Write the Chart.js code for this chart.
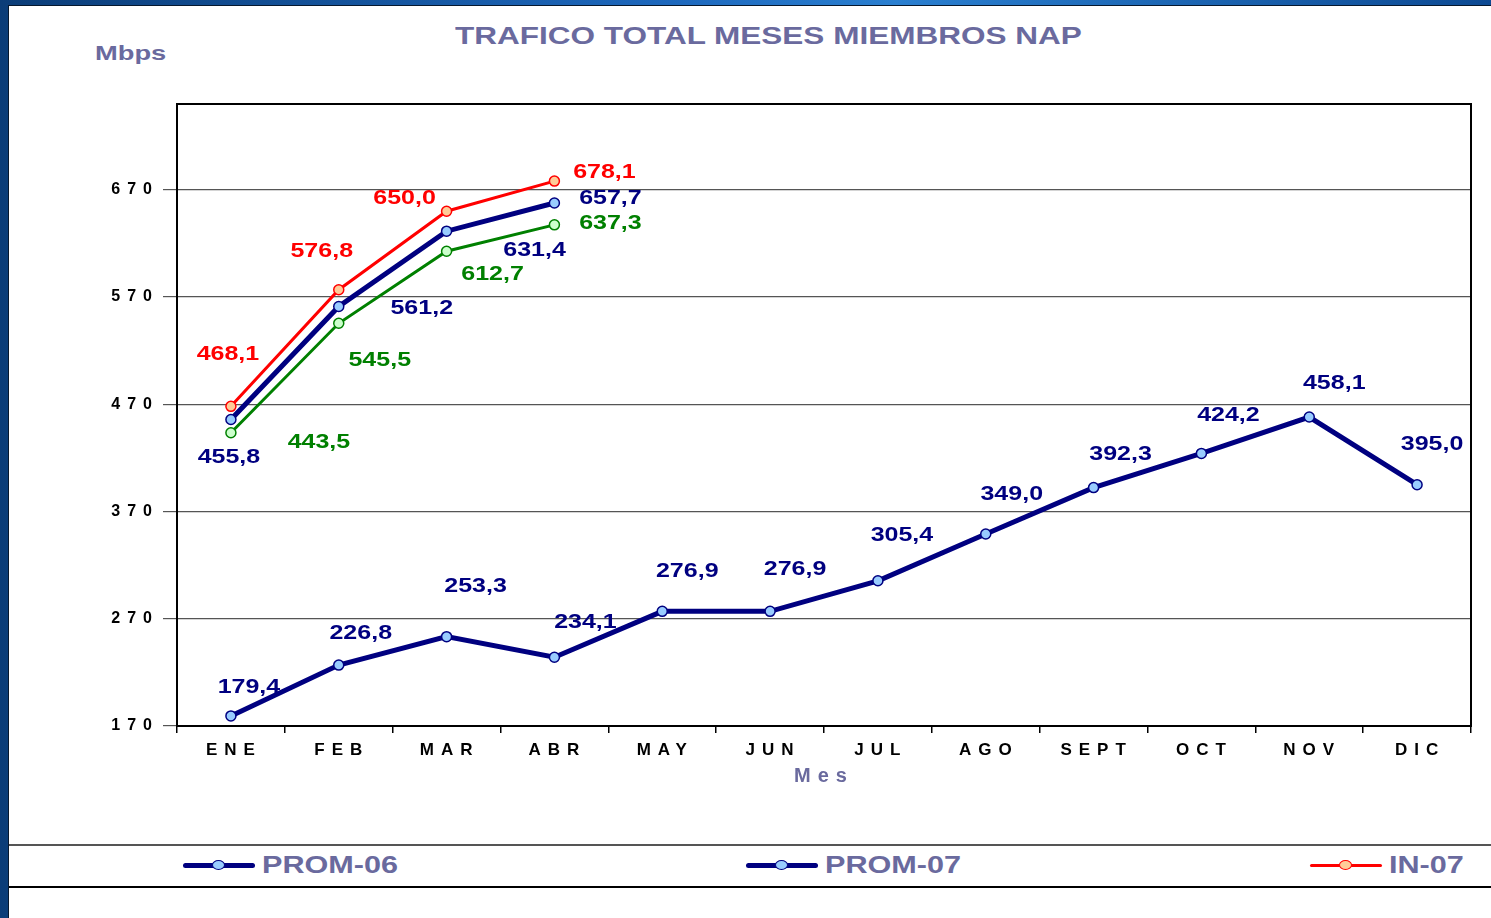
<!DOCTYPE html>
<html>
<head>
<meta charset="utf-8">
<title>TRAFICO TOTAL MESES MIEMBROS NAP</title>
<script src="https://cdn.jsdelivr.net/npm/chart.js@4.4.1/dist/chart.umd.min.js"></script>
<style>
  body {
    margin: 0;
    width: 1491px;
    height: 918px;
    overflow: hidden;
    position: relative;
    background: linear-gradient(90deg, #0b3d78 0%, #1d68bd 45%, #2a7fd0 60%, #0d4a93 100%);
    font-family: Arial, "Liberation Sans", sans-serif;
  }
  .panel {
    position: absolute;
    left: 8px; top: 5px; right: 0; bottom: 0;
    background: #fff;
    border-left: 1px solid #06182e;
    border-top: 1px solid #06182e;
  }
  .txt {
    position: absolute;
    color: #6a6a9e;
    font-weight: bold;
    white-space: nowrap;
    transform-origin: left center;
  }
  #title { left: 455px; top: 25px; font-size: 23px; line-height: 23px; transform: scaleX(1.37); }
  #unit { left: 95px; top: 42px; font-size: 21px; line-height: 21px; transform: scaleX(1.3); }
  #chartBox { position: absolute; left: 0; top: 0; width: 1491px; height: 830px; }
  .band { position: absolute; left: 9px; right: 0; }
  .item { position: absolute; top: 852px; height: 26px; display: flex; align-items: center; }
  .mark { position: relative; width: 72px; height: 12px; margin-right: 7px; }
  .mark .ln { position: absolute; left: 0; right: 0; top: 50%; border-radius: 3px; }
  .mark .pt { position: absolute; left: 29px; top: 1px; width: 11px; height: 8px; border-radius: 50%; }
  .item span { font-size: 23px; font-weight: bold; color: #6a6a9e; display: inline-block; white-space: nowrap; transform: scaleX(1.33); transform-origin: left center; }
</style>
</head>
<body>
<div class="panel"></div>
<div class="txt" id="title">TRAFICO TOTAL MESES MIEMBROS NAP</div>
<div class="txt" id="unit">Mbps</div>
<div id="chartBox"><canvas id="chart" width="1491" height="830"></canvas></div>
<div class="band" style="top:844px;border-top:2px solid #555;"></div>
<div class="band" style="top:886px;border-top:2px solid #000;"></div>
<div id="legend"></div>

<script>
const months = ["ENE", "FEB", "MAR", "ABR", "MAY", "JUN", "JUL", "AGO", "SEPT", "OCT", "NOV", "DIC"];
const prom06 = [179.4, 226.8, 253.3, 234.1, 276.9, 276.9, 305.4, 349.0, 392.3, 424.2, 458.1, 395.0];
const prom07 = [455.8, 561.2, 631.4, 657.7];
const in07 = [468.1, 576.8, 650.0, 678.1];
const out07 = [443.5, 545.5, 612.7, 637.3];
const yTicks = [170, 270, 370, 470, 570, 670];

// where each value label sits, relative to its point (px)
const labelShift = [
  [[18, -28], [22, -32], [29, -50], [31, -35], [25, -40], [25, -42], [24, -45], [26, -40], [27, -33], [27, -38], [25, -34], [15, -40]],
  [[-2, 38], [83, 2], [88, 19], [56, -4]],
  [[-3, -52], [-17, -38], [-42, -13], [50, -9]],
  [[88, 10], [41, 37], [46, 23], [56, -1]],
];

const navy = "#000080";

function line(label, data, color, fill, width) {
  return {
    label: label,
    data: data,
    borderColor: color,
    backgroundColor: color,
    borderWidth: width,
    pointRadius: 5,
    pointBorderWidth: 1.5,
    pointBorderColor: color,
    pointBackgroundColor: fill,
    tension: 0,
    fill: false,
  };
}

const valueLabels = {
  id: "valueLabels",
  afterDatasetsDraw(chart) {
    const ctx = chart.ctx;
    chart.data.datasets.forEach((ds, i) => {
      const meta = chart.getDatasetMeta(i);
      meta.data.forEach((pt, j) => {
        const v = ds.data[j];
        if (v == null) return;
        const s = labelShift[i][j];
        ctx.save();
        ctx.letterSpacing = "0px";
        ctx.translate(pt.x + s[0], pt.y + s[1]);
        ctx.scale(1.25, 1);
        ctx.font = "bold 20px Arial, 'Liberation Sans'";
        ctx.fillStyle = ds.borderColor;
        ctx.textAlign = "center";
        ctx.textBaseline = "middle";
        ctx.fillText(v.toFixed(1).replace(".", ","), 0, 0);
        ctx.restore();
      });
    });
  },
};

const spacing = {
  id: "spacing",
  beforeDraw(chart) {
    chart.ctx.letterSpacing = "7px";
  },
  afterDraw(chart) {
    const { ctx, chartArea: a } = chart;
    ctx.save();
    ctx.strokeStyle = "#000";
    ctx.lineWidth = 2;
    ctx.strokeRect(a.left, a.top, a.right - a.left, a.bottom - a.top);
    ctx.restore();
  },
};

const chart = new Chart(document.getElementById("chart"), {
  type: "line",
  data: {
    labels: months,
    datasets: [
      line("PROM-06", prom06, navy, "#99ccff", 5),
      line("PROM-07", prom07, navy, "#99ccff", 5),
      line("IN-07", in07, "#ff0000", "#ffcc99", 3),
      line("OUT-07", out07, "#008000", "#ccffcc", 3),
    ],
  },
  options: {
    responsive: false,
    animation: false,
    layout: { padding: { left: 0, top: 104, right: 20, bottom: 34 } },
    plugins: {
      legend: { display: false },
      tooltip: { enabled: false },
    },
    scales: {
      x: {
        offset: true,
        afterFit: (s) => { s.height = 70; },
        grid: { offset: true, drawOnChartArea: false, drawTicks: true, tickLength: 7, color: "#000", lineWidth: 1.5 },
        border: { display: true, color: "#000", width: 2 },
        ticks: { color: "#000", font: { family: "Arial", size: 17, weight: "bold" }, padding: 7, labelOffset: 3, maxRotation: 0, autoSkip: false },
        title: { display: true, text: "Mes", color: "#6a6a9e", font: { family: "Arial", size: 20, weight: "bold" }, padding: { top: 0, bottom: 8 } },
      },
      y: {
        min: 170,
        max: 750,
        afterFit: (s) => { s.width = 177; },
        afterBuildTicks: (s) => { s.ticks = yTicks.map((v) => ({ value: v })); },
        grid: { color: "#555", lineWidth: 1.2, tickLength: 14 },
        border: { display: true, color: "#000", width: 2 },
        ticks: { color: "#000", font: { family: "Arial", size: 16, weight: "bold" }, padding: 4 },
      },
    },
  },
  plugins: [spacing, valueLabels],
});

// legend shows the first three series, as in the source, spread across the band
const legendLeft = [183, 746, 1310];
const legendBox = document.getElementById("legend");
chart.data.datasets.slice(0, 3).forEach((ds, i) => {
  const item = document.createElement("div");
  item.className = "item";
  item.style.left = legendLeft[i] + "px";
  const mark = document.createElement("div");
  mark.className = "mark";
  const ln = document.createElement("div");
  ln.className = "ln";
  ln.style.height = ds.borderWidth + "px";
  ln.style.marginTop = -ds.borderWidth / 2 + "px";
  ln.style.background = ds.borderColor;
  const pt = document.createElement("div");
  pt.className = "pt";
  pt.style.background = ds.pointBackgroundColor;
  pt.style.border = "1.5px solid " + ds.borderColor;
  mark.appendChild(ln);
  mark.appendChild(pt);
  const name = document.createElement("span");
  name.textContent = ds.label;
  item.appendChild(mark);
  item.appendChild(name);
  legendBox.appendChild(item);
});
</script>
</body>
</html>
